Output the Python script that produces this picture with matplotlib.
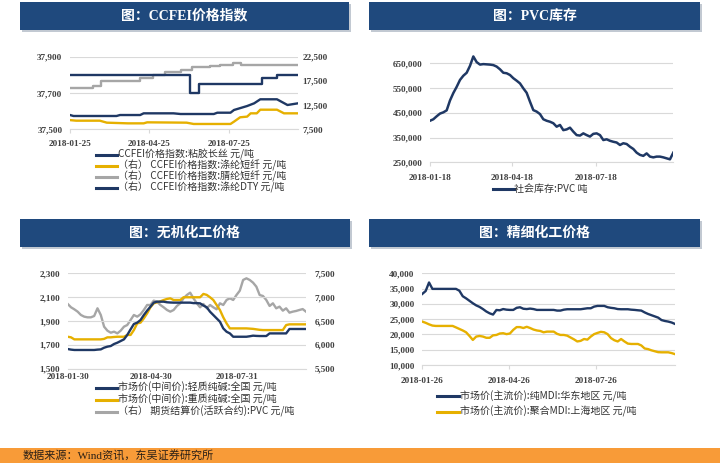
import matplotlib
matplotlib.use('Agg')
import matplotlib.pyplot as plt
import matplotlib.dates as mdates
from matplotlib.patches import Rectangle
from matplotlib.lines import Line2D
from matplotlib.ticker import FuncFormatter, FixedLocator
import pandas as pd

W, H = 720, 463
NAVY = '#1F3864'
GOLD = '#E6B000'
GRAY = '#A6A6A6'
BANNER = '#1F497D'
GRID = '#D9D9D9'
TICKC = '#404040'
LEG = ['Noto Sans CJK SC', 'DejaVu Sans']
SERIF = ['Liberation Serif', 'Noto Sans CJK SC']

# ---------------- Panel 1: CCFEI price index ----------------
titles = ['图：CCFEI价格指数', '图：PVC库存', '图：无机化工价格', '图：精细化工价格']

ccfei_legend = ['CCFEI价格指数:粘胶长丝 元/吨',
                '（右） CCFEI价格指数:涤纶短纤 元/吨',
                '（右） CCFEI价格指数:腈纶短纤 元/吨',
                '（右） CCFEI价格指数:涤纶DTY 元/吨']
ccfei_xticks = ['2018-01-25', '2018-04-25', '2018-07-25']

viscose_dates = ['2018-01-25', '2018-06-11', '2018-06-21', '2018-09-01', '2018-09-18', '2018-10-12']
viscose_vals = [37800, 37700, 37750, 37780, 37800, 37800]

acrylic_dates = ['2018-01-25', '2018-02-10', '2018-02-20', '2018-03-01', '2018-04-15', '2018-04-30',
                 '2018-05-13', '2018-06-01', '2018-06-13', '2018-07-04', '2018-07-15', '2018-07-30',
                 '2018-08-08', '2018-10-12']
acrylic_vals = [16000, 16100, 16500, 17500, 18000, 18700, 19400, 19800, 20300, 20600, 20800, 21300,
                20800, 20800]

psf_dates = ['2018-01-25', '2018-02-01', '2018-02-28', '2018-03-08', '2018-04-01', '2018-04-19',
             '2018-04-23', '2018-05-20', '2018-06-07', '2018-06-15', '2018-07-27', '2018-07-31',
             '2018-08-07', '2018-08-15', '2018-08-19', '2018-08-26', '2018-08-30', '2018-09-18',
             '2018-09-26', '2018-10-12']
psf_vals = [9400, 9280, 9280, 8870, 8730, 8730, 8940, 8900, 8870, 8600, 8600, 9080, 9980, 10120,
            10800, 10800, 11550, 11550, 10800, 10800]

dty_dates = ['2018-01-25', '2018-01-29', '2018-03-19', '2018-03-23', '2018-04-15', '2018-04-19',
             '2018-05-23', '2018-05-31', '2018-07-08', '2018-07-12', '2018-07-27', '2018-07-31',
             '2018-08-15', '2018-08-23', '2018-08-30', '2018-09-18', '2018-09-30', '2018-10-12']
dty_vals = [10450, 10250, 10250, 10450, 10450, 10800, 10800, 10660, 10660, 10930, 10930, 11490,
            12310, 12870, 13700, 13700, 12520, 12870]

# ---------------- Panel 2: PVC inventory ----------------
pvc_legend = ['社会库存:PVC 吨']
pvc_xticks = ['2018-01-18', '2018-04-18', '2018-07-18']
pvc_start, pvc_end = '2018-01-18', '2018-10-11'
pvc_inv = [418, 424, 436, 447, 452, 460, 500, 530, 555, 583, 600, 612, 640, 678, 655, 645, 647, 646,
           645, 643, 637, 626, 612, 610, 603, 590, 580, 569, 549, 531, 495, 461, 455, 445, 424, 418,
           414, 408, 394, 401, 380, 383, 390, 374, 360, 358, 367, 360, 354, 365, 367, 360, 340, 343,
           337, 333, 330, 320, 327, 324, 313, 304, 289, 280, 276, 286, 273, 270, 273, 273, 270, 266,
           262, 289]  # thousand tonnes

# ---------------- Panel 3: inorganic chemicals ----------------
inorg_legend = ['市场价(中间价):轻质纯碱:全国 元/吨',
                '市场价(中间价):重质纯碱:全国 元/吨',
                '（右） 期货结算价(活跃合约):PVC 元/吨']
inorg_xticks = ['2018-01-30', '2018-04-30', '2018-07-31']
inorg_start, inorg_end = '2018-01-30', '2018-10-13'
light_soda = [1665, 1660, 1657, 1657, 1657, 1657, 1657, 1657, 1657, 1660, 1662, 1676, 1685, 1690,
              1707, 1718, 1732, 1746, 1783, 1830, 1875, 1886, 1908, 1950, 1987, 2020, 2054, 2062,
              2062, 2062, 2057, 2055, 2054, 2054, 2054, 2054, 2054, 2054, 2050, 2050, 2048, 2030,
              2015, 1978, 1950, 1922, 1894, 1838, 1810, 1796, 1768, 1768, 1768, 1768, 1768, 1772,
              1777, 1775, 1774, 1774, 1774, 1796, 1796, 1796, 1796, 1796, 1796, 1833, 1833, 1833,
              1833, 1833, 1833]
heavy_soda = [1768, 1763, 1746, 1746, 1746, 1746, 1746, 1746, 1746, 1746, 1746, 1750, 1763, 1763,
              1766, 1768, 1768, 1768, 1783, 1783, 1824, 1880, 1886, 1922, 1964, 2015, 2048, 2057,
              2065, 2076, 2085, 2090, 2076, 2076, 2076, 2099, 2099, 2099, 2099, 2099, 2099, 2127,
              2119, 2099, 2076, 2034, 1992, 1931, 1880, 1838, 1838, 1838, 1838, 1838, 1838, 1836,
              1834, 1830, 1826, 1824, 1824, 1824, 1824, 1824, 1824, 1824, 1866, 1872, 1872, 1872,
              1872, 1872, 1872]
pvc_fut = [6857, 6787, 6745, 6696, 6626, 6591, 6577, 6577, 6605, 6766, 6626, 6381, 6297, 6255,
           6276, 6241, 6297, 6381, 6416, 6521, 6626, 6591, 6640, 6731, 6836, 6836, 6927, 6906,
           6836, 6787, 6731, 6696, 6731, 6815, 6871, 6976, 7045, 7094, 6976, 6871, 6787, 6857,
           6766, 6836, 6787, 6745, 6871, 6836, 6941, 6976, 6941, 7045, 7136, 7360, 7395, 7360,
           7304, 7220, 7045, 7024, 6941, 6815, 6871, 6766, 6801, 6717, 6766, 6675, 6696, 6710,
           6731, 6750, 6696]

# ---------------- Panel 4: fine chemicals ----------------
fine_legend = ['市场价(主流价):纯MDI:华东地区 元/吨',
               '市场价(主流价):聚合MDI:上海地区 元/吨']
fine_xticks = ['2018-01-26', '2018-04-26', '2018-07-26']
fine_start, fine_end = '2018-01-26', '2018-10-16'
pure_mdi = [33260, 34200, 37000, 34900, 34900, 34900, 34900, 34900, 34900, 34900, 34900, 34300,
            32500, 31800, 31000, 30200, 29500, 29000, 28300, 27500, 26900, 26500, 28000, 27900,
            28300, 28100, 28020, 28020, 28700, 28890, 28400, 28300, 28450, 28300, 28020, 28020,
            28020, 28020, 28020, 28020, 27800, 27800, 28100, 28240, 28240, 28240, 28240, 28240,
            28400, 28560, 28560, 29100, 29330, 29330, 29330, 28900, 28700, 28560, 28300, 28240,
            28240, 28240, 28100, 28020, 27900, 27800, 27200, 26700, 26300, 25900, 25500, 24700,
            24400, 24200, 23900, 23430]
poly_mdi = [24200, 23800, 23300, 22900, 22780, 22780, 22780, 22780, 22780, 22780, 22300, 21800,
            21300, 20700, 19500, 18200, 19300, 19500, 19300, 18900, 18900, 19700, 19830, 20300,
            20400, 20100, 20300, 21500, 22400, 22400, 22100, 22500, 22100, 21600, 21300, 21140,
            20700, 20920, 20920, 20920, 20200, 19830, 19830, 19600, 19000, 18400, 17700, 17900,
            18500, 18300, 19300, 20100, 20500, 20850, 20700, 20100, 18800, 18100, 17700, 18500,
            17700, 17000, 16880, 16880, 16880, 16400, 15400, 15200, 14800, 14500, 14200, 14150,
            14150, 14150, 13900, 13550]

footer_text = '数据来源：Wind资讯，东吴证券研究所'

# ====================================================================
fig = plt.figure(figsize=(7.2, 4.63), dpi=100)
fig.patch.set_facecolor('white')


def fx(x):
    return x / W


def fy(y):
    return 1 - y / H


def ax_at(x0, y0, x1, y1, **kw):
    return fig.add_axes([fx(x0), fy(y1), (x1 - x0) / W, (y1 - y0) / H], **kw)


comma = FuncFormatter(lambda v, p: f'{int(round(v)):,}')


def style_axis(ax, xticks, xlim, ylim, yticks, xpad=4.5, ypad=5.5, grid=True, ticklen=3):
    ax.set_xlim(pd.Timestamp(xlim[0]), pd.Timestamp(xlim[1]))
    ax.set_ylim(*ylim)
    ax.yaxis.set_major_locator(FixedLocator(yticks))
    ax.yaxis.set_major_formatter(comma)
    ax.xaxis.set_major_locator(FixedLocator([mdates.date2num(pd.Timestamp(t)) for t in xticks]))
    ax.xaxis.set_major_formatter(mdates.DateFormatter('%Y-%m-%d'))
    for s in ['top', 'right', 'left']:
        ax.spines[s].set_visible(False)
    ax.spines['bottom'].set_color(GRID)
    ax.spines['bottom'].set_linewidth(0.8)
    ax.tick_params(axis='y', length=0, pad=ypad)
    ax.tick_params(axis='x', length=ticklen, color=GRID, pad=xpad)
    for lab in ax.get_xticklabels() + ax.get_yticklabels():
        lab.set_fontfamily(SERIF)
        lab.set_fontweight('bold')
        lab.set_fontsize(6.6)
        lab.set_color(TICKC)
    if grid:
        ax.grid(axis='y', color=GRID, linewidth=0.8)
    ax.set_axisbelow(True)
    ax.set_facecolor('none')


def style_right(axr, ylim, yticks, pad):
    axr.set_ylim(*ylim)
    axr.yaxis.set_major_locator(FixedLocator(yticks))
    axr.yaxis.set_major_formatter(comma)
    for s in ['top', 'right', 'left', 'bottom']:
        axr.spines[s].set_visible(False)
    axr.tick_params(axis='y', length=0, pad=pad)
    for lab in axr.get_yticklabels():
        lab.set_fontfamily(SERIF)
        lab.set_fontweight('bold')
        lab.set_fontsize(6.6)
        lab.set_color(TICKC)


def banner(x0, y0, x1, y1, text):
    fig.patches.append(Rectangle((fx(x0 + 2), fy(y1 + 2)), (x1 - x0) / W, (y1 - y0) / H,
                                 transform=fig.transFigure, facecolor='#9AA6B4', edgecolor='none',
                                 alpha=0.6, zorder=0))
    fig.patches.append(Rectangle((fx(x0), fy(y1)), (x1 - x0) / W, (y1 - y0) / H,
                                 transform=fig.transFigure, facecolor=BANNER, edgecolor='none',
                                 zorder=1))
    fig.text(fx((x0 + x1) / 2), fy((y0 + y1) / 2), text, color='white', fontsize=10,
             fontweight='bold', family=SERIF, ha='center', va='center', zorder=2)


LEGSIZE = 7.2


def legend(x0, x1, ys, labels, colors):
    for y, lab, c in zip(ys, labels, colors):
        fig.add_artist(Line2D([fx(x0), fx(x1)], [fy(y), fy(y)], color=c, linewidth=2.2,
                              transform=fig.transFigure))
        fig.text(fx(x1 + 0.5), fy(y), lab, fontsize=LEGSIZE, family=LEG,
                 color='#333333', ha='left', va='center')


def ts(lst):
    return pd.to_datetime(lst)


# ---- Panel 1
banner(20, 2, 349, 30, titles[0])
ax1 = ax_at(70, 56.7, 298, 129.3)
style_axis(ax1, ccfei_xticks, ('2018-01-25', '2018-10-12'), (37500, 37900), [37500, 37700, 37900])
ax1r = ax1.twinx()
style_right(ax1r, (7500, 22500), [7500, 12500, 17500, 22500], pad=3)
ax1r.plot(ts(acrylic_dates), acrylic_vals, color=GRAY, lw=1.7, drawstyle='steps-post')
ax1r.plot(ts(psf_dates), psf_vals, color=GOLD, lw=1.7)
ax1r.plot(ts(dty_dates), dty_vals, color=NAVY, lw=1.7)
ax1.plot(ts(viscose_dates), viscose_vals, color=NAVY, lw=1.7, drawstyle='steps-post', zorder=5)
ax1.set_zorder(ax1r.get_zorder() + 1)
legend(96, 117, [154.5, 165.5, 176.5, 187.5], ccfei_legend, [NAVY, GOLD, GRAY, NAVY])

# ---- Panel 2
banner(369, 2, 700, 30, titles[1])
ax2 = ax_at(430, 51, 673.3, 162.3)
style_axis(ax2, pvc_xticks, (pvc_start, pvc_end), (250000, 700000),
           [250000, 350000, 450000, 550000, 650000], xpad=5.5)
pvc_dates = pd.date_range(pvc_start, pvc_end, periods=len(pvc_inv))
ax2.plot(pvc_dates, [v * 1000 for v in pvc_inv], color=NAVY, lw=1.8)
legend(493, 514, [189.3], pvc_legend, [NAVY])

# ---- Panel 3
banner(20, 219, 350, 247, titles[2])
ax3 = ax_at(67.7, 273.3, 306, 368.7)
style_axis(ax3, inorg_xticks, (inorg_start, inorg_end), (1500, 2300), [1500, 1700, 1900, 2100, 2300],
           xpad=3, ticklen=0)
ax3r = ax3.twinx()
style_right(ax3r, (5500, 7500), [5500, 6000, 6500, 7000, 7500], pad=6)
inorg_dates = pd.date_range(inorg_start, inorg_end, periods=len(light_soda))
ax3r.plot(inorg_dates, pvc_fut, color=GRAY, lw=1.7)
ax3.plot(inorg_dates, heavy_soda, color=GOLD, lw=1.7, zorder=4)
ax3.plot(inorg_dates, light_soda, color=NAVY, lw=1.7, zorder=5)
ax3.set_zorder(ax3r.get_zorder() + 1)
legend(96, 117, [387.5, 399.8, 411.8], inorg_legend, [NAVY, GOLD, GRAY])

# ---- Panel 4
banner(369, 219, 700, 247, titles[3])
ax4 = ax_at(422.3, 273.3, 675, 365)
style_axis(ax4, fine_xticks, (fine_start, fine_end), (10000, 40000),
           [10000, 15000, 20000, 25000, 30000, 35000, 40000], xpad=5.5)
fine_dates = pd.date_range(fine_start, fine_end, periods=len(pure_mdi))
ax4.plot(fine_dates, pure_mdi, color=NAVY, lw=1.7)
ax4.plot(fine_dates, poly_mdi, color=GOLD, lw=1.7)
legend(436.7, 459.5, [396, 411.7], fine_legend, [NAVY, GOLD])

# ---- footer
fig.patches.append(Rectangle((0, 0), 1, fy(448), transform=fig.transFigure,
                             facecolor='#F89B38', edgecolor='none', zorder=0))
fig.text(fx(23), fy(456), footer_text, fontsize=8, family=SERIF, color='#2B2016',
         ha='left', va='center')

fig.savefig('out.png', dpi=100)
